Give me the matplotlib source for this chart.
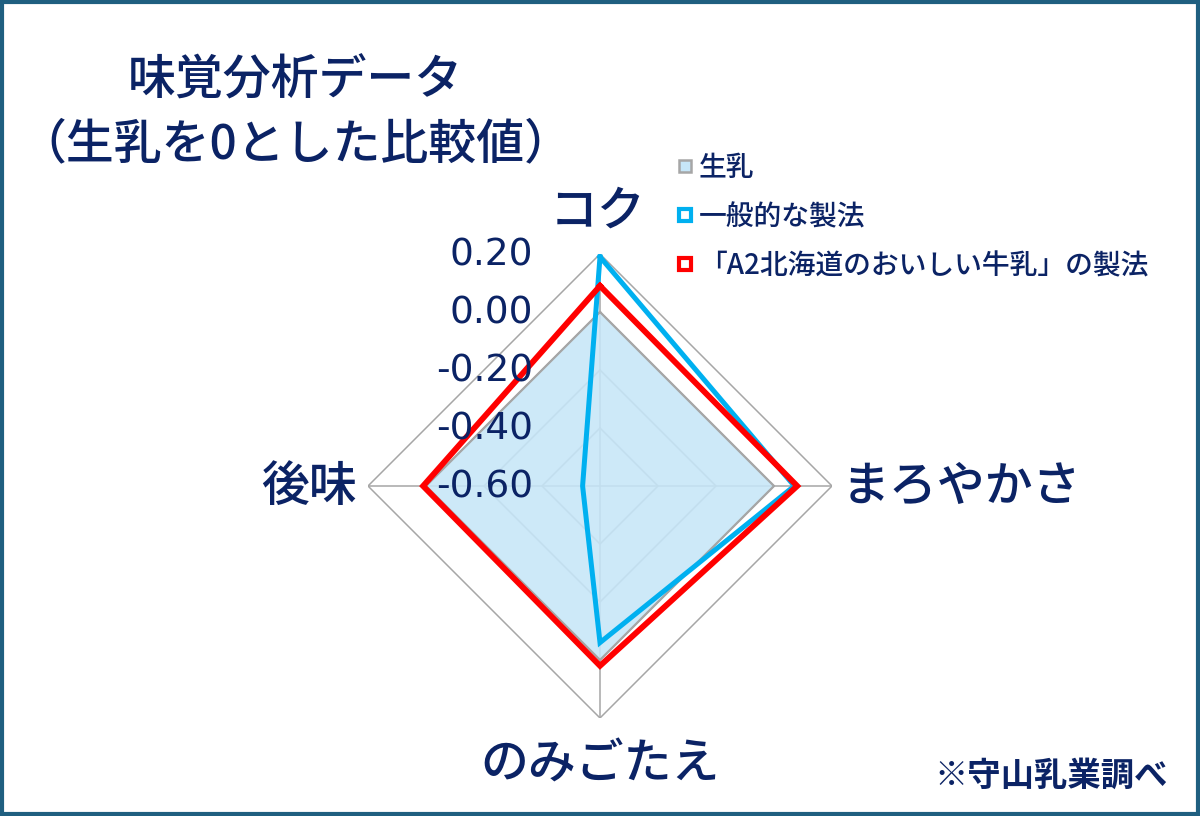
import numpy as np
import matplotlib
matplotlib.use("Agg")
import matplotlib.pyplot as plt
from matplotlib.lines import Line2D
from matplotlib.patches import Rectangle
import matplotlib.transforms as mtransforms

plt.rcParams['font.family'] = ['Noto Sans CJK JP', 'DejaVu Sans']

# ---- data ----
categories = ['コク', 'まろやかさ', 'のみごたえ', '後味']
series_names = ['生乳', '一般的な製法', '「A2北海道のおいしい牛乳」の製法']
raw_milk = [0.0, 0.0, 0.0, 0.0]
general = [0.19, 0.07, -0.06, -0.54]
a2_milk = [0.09, 0.08, 0.02, 0.01]
tick_values = [0.20, 0.00, -0.20, -0.40, -0.60]
tick_labels = ['0.20', '0.00', '-0.20', '-0.40', '-0.60']
title_lines = ['味覚分析データ', '（生乳を0とした比較値）']
source_note = '※守山乳業調べ'

navy = '#0B2365'
grid_gray = '#A6A6A6'
fill_blue = '#C6E6F8'
blue = '#00B0F0'
red = '#FF0000'

fig = plt.figure(figsize=(12, 8.16), dpi=100)
fig.patch.set_facecolor('white')

W, H = 1200, 816
cx, cy, R = 600, 486, 232
ax = fig.add_axes([(cx - R) / W, (H - cy - R) / H, 2 * R / W, 2 * R / H],
                  projection='polar')
ax.set_theta_offset(np.pi / 2)
ax.set_theta_direction(-1)
rmin, rmax = -0.6, 0.2
ax.set_ylim(rmin, rmax)
ax.set_xticks([])
ax.set_yticks([])
ax.grid(False)
ax.spines['polar'].set_visible(False)
ax.patch.set_alpha(0)

n = len(categories)
theta = np.linspace(0, 2 * np.pi, n, endpoint=False)
theta_c = np.append(theta, theta[0])

def closed(v):
    return np.append(v, v[0])

# gridlines (polygon rings + spokes)
for v in tick_values[:-1]:
    ax.plot(theta_c, [v] * (n + 1), color=grid_gray, lw=1.1, zorder=1)
for t in theta:
    ax.plot([t, t], [rmin, rmax], color=grid_gray, lw=1.1, zorder=1)

# 生乳 filled area
ax.fill(theta_c, closed(raw_milk), facecolor=fill_blue, alpha=0.88,
        edgecolor='none', zorder=2)
ax.plot(theta_c, closed(raw_milk), color=grid_gray, lw=1.6, zorder=3)

# series lines
ax.plot(theta_c, closed(general), color=blue, lw=3.6, zorder=4,
        solid_joinstyle='miter')
ax.plot(theta_c, closed(a2_milk), color=red, lw=4.2, zorder=5,
        solid_joinstyle='miter')

# radial tick labels
off = mtransforms.offset_copy(ax.transData, fig=fig, x=-67, y=-2, units='dots')
for v, lab in zip(tick_values, tick_labels):
    ax.text(0, v, lab, transform=off, ha='right', va='center',
            fontsize=27, color=navy, family='DejaVu Sans', zorder=6)

# category labels
lab_kw = dict(fontsize=34.5, color=navy, fontweight='medium')
fig.text(598 / W, 1 - 212 / H, categories[0], ha='center', va='center', **lab_kw)
fig.text(842 / W, 1 - 487 / H, categories[1], ha='left', va='center', **lab_kw)
fig.text(600 / W, 1 - 765 / H, categories[2], ha='center', va='center', **lab_kw)
fig.text(357 / W, 1 - 487 / H, categories[3], ha='right', va='center', **lab_kw)

# title
fig.text(295 / W, 1 - 81 / H, title_lines[0], ha='center', va='center',
         fontsize=34.5, color=navy, fontweight='medium')
fig.text(295 / W, 1 - 145 / H, title_lines[1], ha='center', va='center',
         fontsize=34.5, color=navy, fontweight='medium')

# source note
fig.text(1168 / W, 1 - 776 / H, source_note, ha='right', va='center',
         fontsize=24, color=navy, fontweight='bold')

# legend
handles = [
    Line2D([], [], linestyle='none', marker='s', markersize=9,
           markerfacecolor=fill_blue, markeredgecolor=grid_gray, markeredgewidth=1.8),
    Line2D([], [], linestyle='none', marker='s', markersize=8,
           markerfacecolor='white', markeredgecolor=blue, markeredgewidth=3),
    Line2D([], [], linestyle='none', marker='s', markersize=8,
           markerfacecolor='white', markeredgecolor=red, markeredgewidth=3),
]
leg = fig.legend(handles, series_names, loc='upper left',
                 bbox_to_anchor=(677 / W, 1 - 153 / H), frameon=False,
                 fontsize=20, handlelength=0.6, handletextpad=0.2,
                 labelspacing=0.72, borderpad=0, borderaxespad=0)
for t in leg.get_texts():
    t.set_color(navy)
    t.set_fontweight('medium')

# frame
fig.patches.append(Rectangle((0.0015, 0.002), 0.997, 0.996, transform=fig.transFigure,
                             fill=False, edgecolor='#1F5F80', linewidth=3))

fig.savefig('out.png', dpi=100, facecolor='white')
